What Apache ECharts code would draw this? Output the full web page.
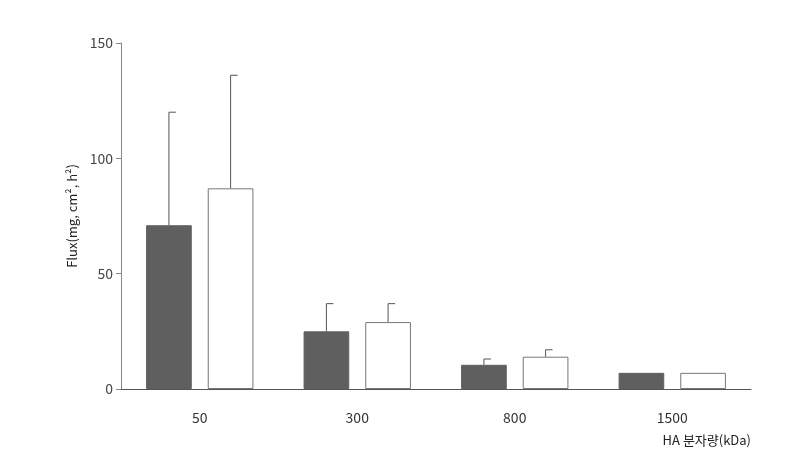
<!DOCTYPE html>
<html><head><meta charset="utf-8">
<script src="https://cdn.jsdelivr.net/npm/echarts@6/dist/echarts.min.js"></script>
<style>body{margin:0;background:#fff}#main{width:786px;height:462px}</style>
</head><body><div id="main"></div>
<script>
const categories = ['50', '300', '800', '1500'];
const darkValues = [71, 25, 10.5, 7];
const darkErrTop = [120, 37, 13, null];
const whiteValues = [87, 29, 14, 7];
const whiteErrTop = [136, 37, 17, null];
const yTicks = [0, 50, 100, 150];

const chart = echarts.init(document.getElementById('main'));
const font = "'Noto Sans CJK KR', 'Noto Sans', sans-serif";

function errSeries(values, tops, side) {
    return {
        type: 'custom',
        z: 5,
        data: values.map((v, i) => [i, v, tops[i]]),
        renderItem: (params, api) => {
            const top = api.value(2);
            if (top === null || isNaN(top)) return null;
            const band = api.size([1, 0])[0];
            const bw = band * 0.29;
            const base = api.coord([api.value(0), api.value(1)]);
            const x = base[0] + side * 0.675 * bw;
            const yTop = api.coord([api.value(0), top])[1];
            const st = { stroke: '#555', lineWidth: 1 };
            return {
                type: 'group',
                children: [
                    { type: 'line', shape: { x1: x, y1: base[1], x2: x, y2: yTop }, style: st },
                    { type: 'line', shape: { x1: x, y1: yTop, x2: x + 7, y2: yTop }, style: st }
                ]
            };
        }
    };
}

const option = {
    animation: false,
    grid: { left: 121, right: 35, top: 43, bottom: 73 },
    xAxis: {
        type: 'category',
        data: categories,
        name: 'HA 분자량(kDa)',
        nameLocation: 'end',
        nameGap: 0,
        nameTextStyle: { fontFamily: font, fontSize: 13, color: '#222', align: 'right', verticalAlign: 'top', padding: [45, 0, 0, 0] },
        axisLine: { lineStyle: { color: '#555' } },
        axisTick: { show: false },
        axisLabel: { fontFamily: font, fontSize: 14, color: '#333', margin: 22 }
    },
    yAxis: {
        type: 'value',
        min: 0, max: 150, interval: 50,
        name: 'Flux(mg, cm², h²)',
        nameLocation: 'middle',
        nameGap: 42,
        nameTextStyle: { fontFamily: font, fontSize: 13, color: '#222' },
        axisLine: { show: true, lineStyle: { color: '#888' } },
        axisTick: { show: true, length: 5, lineStyle: { color: '#888' } },
        axisLabel: { fontFamily: font, fontSize: 14, color: '#444', margin: 8,
            formatter: v => yTicks.includes(v) ? String(v) : '' },
        splitLine: { show: false }
    },
    series: [
        { type: 'bar', data: darkValues, barWidth: '29%', barGap: '35%',
          itemStyle: { color: '#5f5f5f', borderColor: '#5f5f5f', borderWidth: 1 } },
        { type: 'bar', data: whiteValues, barWidth: '29%',
          itemStyle: { color: '#fff', borderColor: '#777', borderWidth: 1 } },
        errSeries(darkValues, darkErrTop, -1),
        errSeries(whiteValues, whiteErrTop, 1)
    ]
};
chart.setOption(option);
</script></body></html>
